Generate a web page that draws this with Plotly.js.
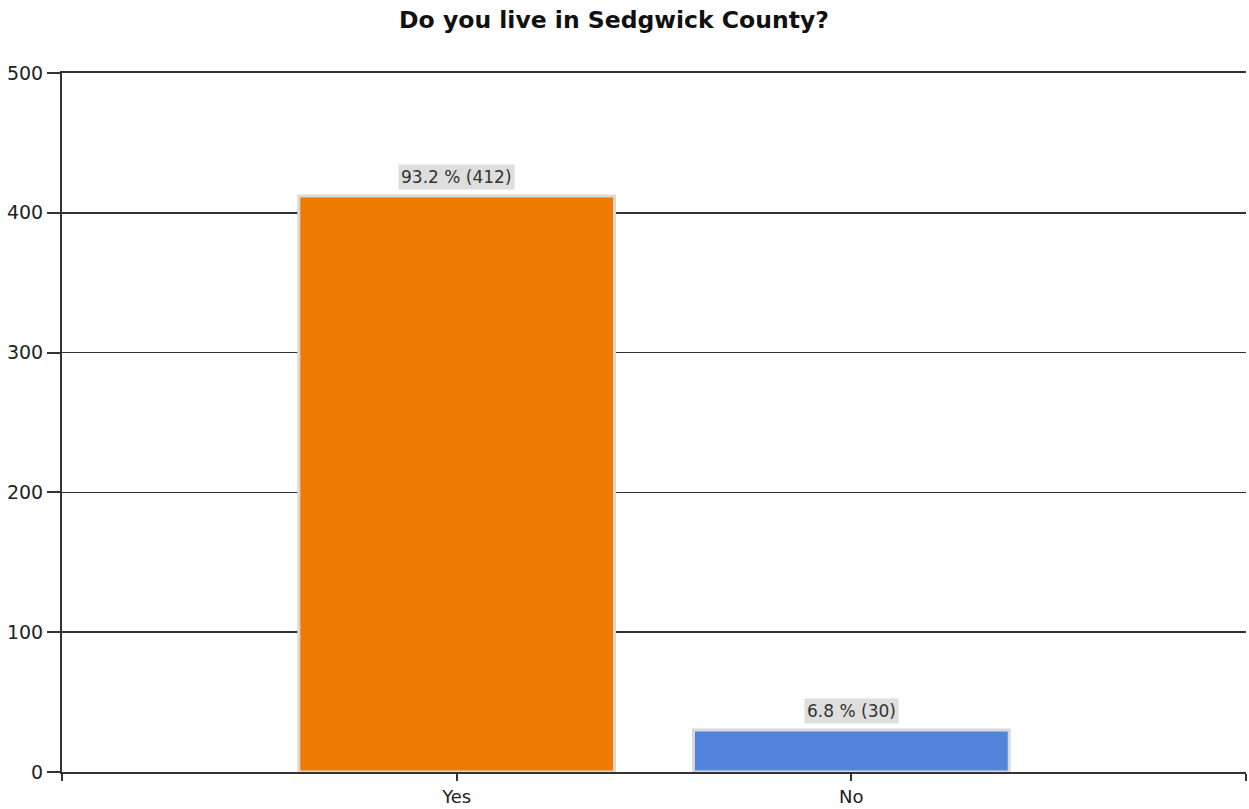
<!DOCTYPE html>
<html>
<head>
<meta charset="utf-8">
<script src="https://cdn.plot.ly/plotly-3.0.1.min.js"></script>
<style>html,body{margin:0;padding:0;background:#fff;}#chart{width:1249px;height:809px;}</style>
</head>
<body>
<div id="chart"></div>
<script>
const categories = ["Yes", "No"];
const counts = [412, 30];
const percents = [93.2, 6.8];
const barColors = ["#EE7B00", "#5384DC"];

const xs = categories.map((c, i) => i);
const labels = categories.map((c, i) => percents[i].toFixed(1) + " % (" + counts[i] + ")");
const FONT = "DejaVu Sans, Verdana, sans-serif";

const trace = {
  type: "bar",
  x: xs,
  y: counts,
  width: 0.8,
  marker: { color: barColors, line: { color: "#d9d9d9", width: 3 } },
  hoverinfo: "skip"
};

const annotations = xs.map((x, i) => ({
  x: x, y: counts[i], xref: "x", yref: "y",
  text: labels[i], showarrow: false,
  yanchor: "bottom", yshift: 6,
  bgcolor: "#dedede", borderpad: 2,
  font: { family: FONT, size: 17, color: "#333" }
}));

const layout = {
  width: 1249, height: 809,
  margin: { l: 62, r: 3, t: 73, b: 37 },
  paper_bgcolor: "#fff", plot_bgcolor: "#fff",
  showlegend: false,
  title: {
    text: "<b>Do you live in Sedgwick County?</b>",
    x: 0.4916, xref: "container", xanchor: "center",
    y: 0.975, yref: "container", yanchor: "middle",
    font: { family: FONT, size: 23.5, color: "#111" }
  },
  xaxis: {
    range: [-1, 2],
    tickmode: "array",
    tickvals: [-1, 0, 1, 2],
    ticktext: ["", categories[0], categories[1], ""],
    ticks: "outside", ticklen: 7, tickwidth: 2, tickcolor: "#333",
    showgrid: false, zeroline: false,
    showline: true, linecolor: "#333", linewidth: 2, mirror: true,
    tickfont: { family: FONT, size: 18, color: "#222" },
    fixedrange: true
  },
  yaxis: {
    range: [0, 500],
    dtick: 100,
    ticks: "outside", ticklen: 13, tickwidth: 2, tickcolor: "#333",
    showgrid: true, gridcolor: "#333", gridwidth: 1.5,
    zeroline: false,
    showline: true, linecolor: "#333", linewidth: 2,
    tickfont: { family: FONT, size: 19, color: "#222" },
    fixedrange: true
  },
  annotations: annotations
};

Plotly.newPlot("chart", [trace], layout, { displayModeBar: false, staticPlot: true });
</script>
</body>
</html>
